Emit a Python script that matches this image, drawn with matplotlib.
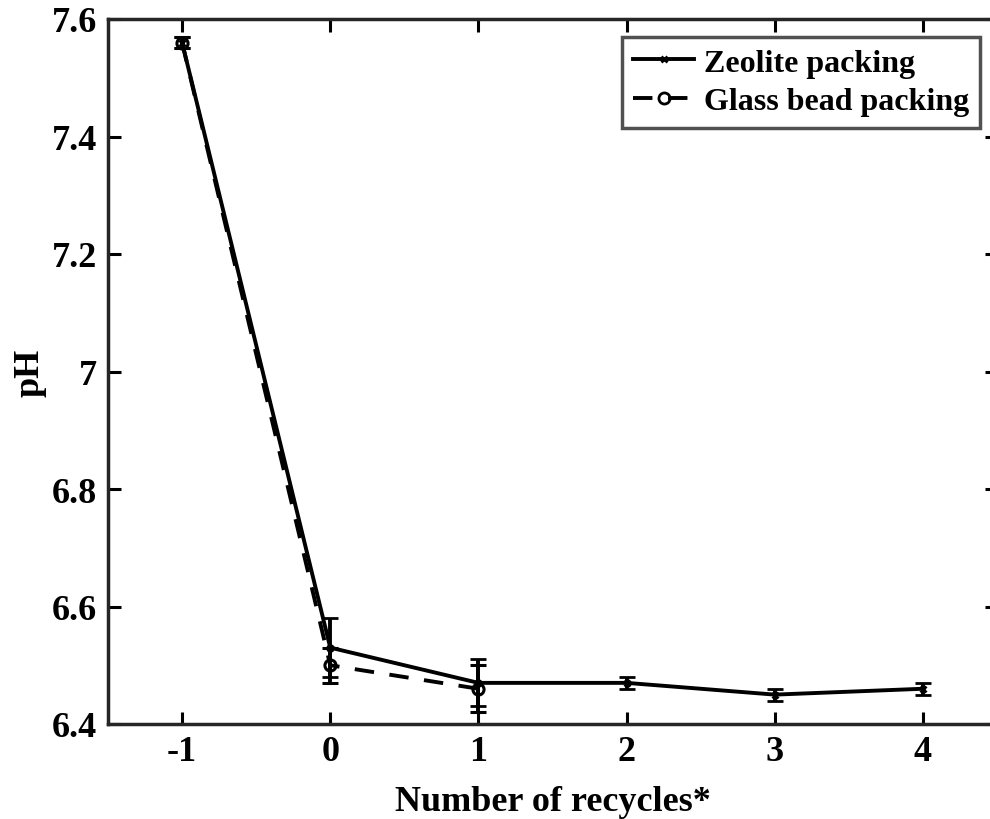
import numpy as np
import matplotlib
matplotlib.use('Agg')
from matplotlib import pyplot as plt
from matplotlib.lines import Line2D

plt.rcParams['font.family'] = ['Liberation Serif', 'DejaVu Serif']
plt.rcParams['font.weight'] = 'bold'

# data
recycles_zeo = [-1, 0, 1, 2, 3, 4]
ph_zeo = [7.56, 6.53, 6.47, 6.47, 6.45, 6.46]
err_zeo = [0.01, 0.05, 0.04, 0.01, 0.01, 0.01]

recycles_glass = [-1, 0, 1]
ph_glass = [7.56, 6.50, 6.46]
err_glass = [0.01, 0.03, 0.04]

xtick_vals = [-1, 0, 1, 2, 3, 4]
ytick_vals = [6.4, 6.6, 6.8, 7.0, 7.2, 7.4, 7.6]
ytick_labels = ['6.4', '6.6', '6.8', '7', '7.2', '7.4', '7.6']

fig = plt.figure(figsize=(9.9, 8.2), dpi=100)
ax = fig.add_axes([108/990, 1 - 725/820, (997 - 108)/990, (725 - 20)/820])

dash = (0, (5, 4))
ax.errorbar(recycles_zeo, ph_zeo, yerr=err_zeo, color='k', lw=2.8, ls='-',
            marker='x', ms=5, mew=2, capsize=6, capthick=3, elinewidth=2.8)
ax.errorbar(recycles_glass, ph_glass, yerr=err_glass, color='k', lw=2.8, ls=dash,
            marker='o', ms=8, mfc='none', mew=2.2, capsize=6, capthick=3, elinewidth=2.8)

ax.set_xlim(-1.5, 4.5)
ax.set_ylim(6.4, 7.6)
ax.set_xticks(xtick_vals)
ax.set_xticklabels([str(v) for v in xtick_vals])
ax.set_yticks(ytick_vals)
ax.set_yticklabels(ytick_labels)
ax.tick_params(direction='in', length=9, width=2.2, labelsize=26, top=True, right=True, pad=8)
for s in ax.spines.values():
    s.set_linewidth(2.5)
    s.set_color('#262626')

ax.set_xlabel('Number of recycles*', fontsize=26, fontweight='bold', labelpad=12)
ax.set_ylabel('pH', fontsize=26, fontweight='bold', labelpad=4)

handles = [Line2D([], [], color='k', lw=2.8, marker='x', ms=5, mew=2),
           Line2D([], [], color='k', lw=2.8, ls=dash, marker='o', ms=8, mfc='none', mew=2)]
leg = ax.legend(handles, ['Zeolite packing', 'Glass bead packing'], loc='upper right',
                bbox_to_anchor=((980 - 108)/(997 - 108), 1 - 18/705),
                fontsize=23, frameon=True, fancybox=False, handlelength=1.9,
                handletextpad=0.3, borderpad=0.35, labelspacing=0.3, borderaxespad=0)
leg.get_frame().set_edgecolor('#262626')
leg.get_frame().set_linewidth(2.5)

fig.savefig('out.png', dpi=100)
